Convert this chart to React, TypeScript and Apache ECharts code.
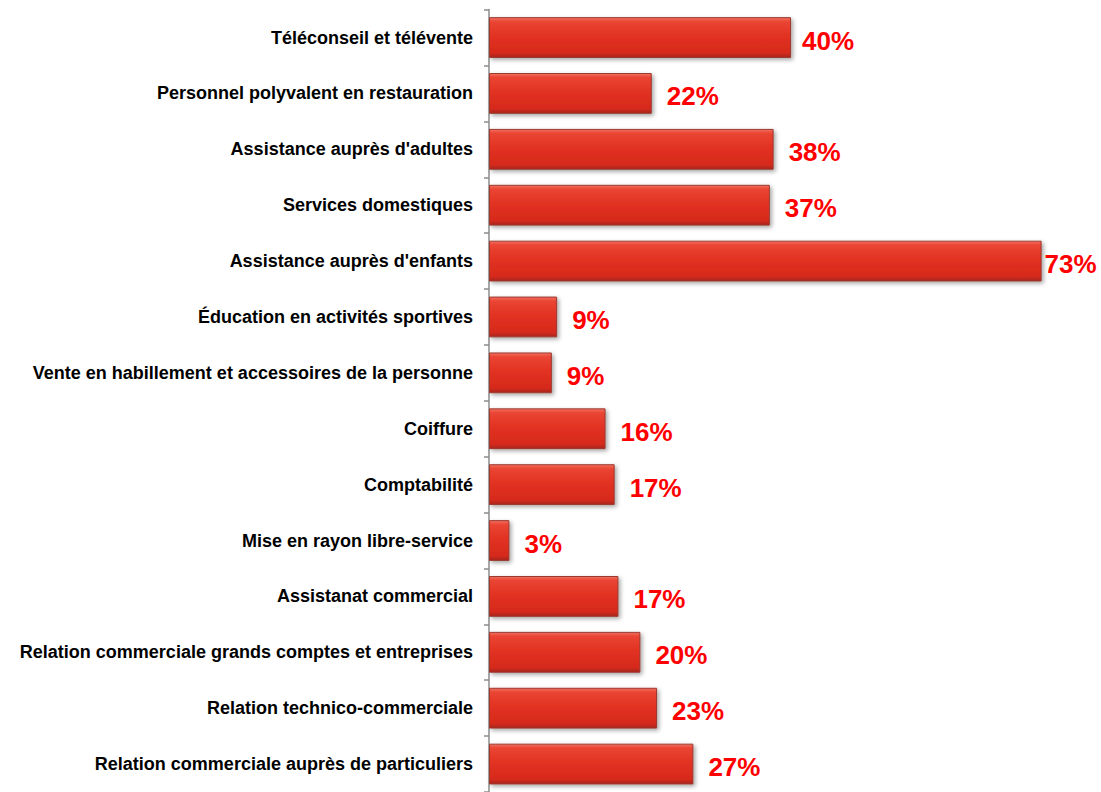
import React, { useEffect, useRef } from "react";
import * as echarts from "echarts";

const categories = [
  "Téléconseil et télévente",
  "Personnel polyvalent en restauration",
  "Assistance auprès d'adultes",
  "Services domestiques",
  "Assistance auprès d'enfants",
  "Éducation en activités sportives",
  "Vente en habillement et accessoires de la personne",
  "Coiffure",
  "Comptabilité",
  "Mise en rayon libre-service",
  "Assistanat commercial",
  "Relation commerciale grands comptes et entreprises",
  "Relation technico-commerciale",
  "Relation commerciale auprès de particuliers",
];

const values = [39.9, 21.5, 37.6, 37.1, 73.0, 9.0, 8.3, 15.4, 16.6, 2.7, 17.1, 20.0, 22.2, 27.0];
const valueLabels = ["40%", "22%", "38%", "37%", "73%", "9%", "9%", "16%", "17%", "3%", "17%", "20%", "23%", "27%"];

export default function App() {
  const ref = useRef<HTMLDivElement>(null);
  useEffect(() => {
    if (!ref.current) return;
    const chart = echarts.init(ref.current, undefined, { renderer: "svg" });
    const barColor = new echarts.graphic.LinearGradient(0, 0, 0, 1, [
      { offset: 0, color: "#f27060" },
      { offset: 0.1, color: "#ea4533" },
      { offset: 0.5, color: "#e13021" },
      { offset: 0.88, color: "#d62b1d" },
      { offset: 1, color: "#a82519" },
    ]);
    chart.setOption({
      animation: false,
      grid: { left: 489, top: 9.6, width: 605.6, height: 785 },
      xAxis: {
        type: "value",
        min: 0,
        max: 80,
        show: false,
      },
      yAxis: {
        type: "category",
        data: categories,
        inverse: true,
        axisLine: { show: true, lineStyle: { color: "#8c8c8c", width: 1.5 } },
        axisTick: { show: true, length: 5, lineStyle: { color: "#8c8c8c", width: 1.5 } },
        axisLabel: {
          margin: 16,
          color: "#000",
          fontFamily: "'Liberation Sans', Arial, sans-serif",
          fontWeight: "bold",
          fontSize: 18,
        },
        splitLine: { show: false },
      },
      series: [
        {
          type: "bar",
          barCategoryGap: "27%",
          data: values.map((v, i) => ({
            value: v,
            label: i === 4 ? { distance: 3 } : i === 0 ? { distance: 11 } : undefined,
          })),
          itemStyle: {
            color: barColor,
            borderColor: "#9a3a30",
            borderWidth: 1,
            shadowBlur: 4,
            shadowColor: "rgba(0,0,0,0.35)",
            shadowOffsetX: 2,
            shadowOffsetY: 2,
          },
          label: {
            show: true,
            position: "right",
            distance: 15,
            offset: [0, 3],
            color: "#ff0000",
            fontFamily: "'Liberation Sans', Arial, sans-serif",
            fontWeight: "bold",
            fontSize: 26,
            formatter: (p: any) => valueLabels[p.dataIndex],
          },
        },
      ],
    });
    return () => chart.dispose();
  }, []);
  return (
    <div
      ref={ref}
      style={{ position: "absolute", left: 0, top: 0, width: 1101, height: 792 }}
    />
  );
}
